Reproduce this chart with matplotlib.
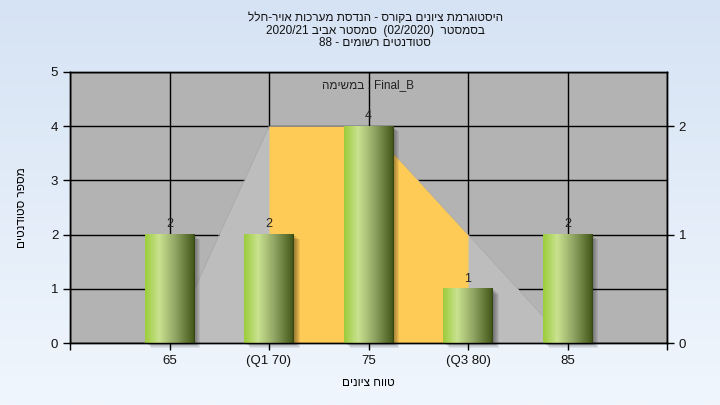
import numpy as np
import matplotlib
matplotlib.use('Agg')
import matplotlib.pyplot as plt
from matplotlib.colors import LinearSegmentedColormap
from matplotlib.patches import Rectangle
from matplotlib import transforms

plt.rcParams['font.family'] = ['Liberation Sans', 'DejaVu Sans']

# chart data
score_labels = ['65', '(Q1 70)', '75', '(Q3 80)', '85']
students = [2, 2, 4, 1, 2]
curve = [0, 2, 2, 1, 0]      # right axis distribution line
q1_pos, q3_pos = 1, 3        # index of Q1 / Q3 categories
left_ticks = [0, 1, 2, 3, 4, 5]
right_ticks = [0, 1, 2]

title_lines = ['היסטוגרמת ציונים בקורס - הנדסת מערכות אויר-חלל',
               'בסמסטר  (02/2020)  סמסטר אביב 2020/21',
               'סטודנטים רשומים - 88']
task_text = 'Final_B : במשימה'
xlabel = 'טווח ציונים'
ylabel = 'מספר סטודנטים'


def rtl(s):
    # matplotlib has no bidi, so put hebrew words into visual order by hand
    out = []
    for tok in s.split(' '):
        if any('\u0590' <= c <= '\u05ff' for c in tok):
            tok = tok[::-1]
        out.append(tok)
    return ' '.join(out[::-1])


fig = plt.figure(figsize=(7.2, 4.05), dpi=100)

# light blue background gradient
bg = fig.add_axes([0, 0, 1, 1], zorder=-10)
bg_cmap = LinearSegmentedColormap.from_list('bg', ['#d6e3f4', '#f0f6fd'])
bg.imshow(np.linspace(0, 1, 256).reshape(-1, 1), cmap=bg_cmap, aspect='auto',
          extent=[0, 1, 0, 1])
bg.axis('off')

ax = fig.add_axes([70 / 720, 62 / 405, 597 / 720, 271 / 405])
ax.set_facecolor('#b3b3b3')
ax2 = ax.twinx()
ax2.set_ylim(0, 2.5)
ax2.patch.set_visible(False)

x = np.arange(len(score_labels))
xs = np.array(x, dtype=float)
cv = np.array(curve, dtype=float)

# distribution area (right axis scale) drawn under the bars on the main axes
ax.fill_between(xs, cv, color='#bdbdbd', lw=0, zorder=1, transform=ax2.transData)
iq = (xs >= q1_pos) & (xs <= q3_pos)
ax.fill_between(xs[iq], cv[iq], color='#fecb57', lw=0, zorder=1.1,
                transform=ax2.transData)
ax.plot(xs, cv, color='#aaaaaa', lw=0.5, zorder=1.2, transform=ax2.transData)

# bars with a shadow and a horizontal green gradient
bar_cmap = LinearSegmentedColormap.from_list(
    'bar', [(0, '#9ccc3c'), (0.28, '#c9e28f'), (0.6, '#92a765'), (0.97, '#475b1c'),
            (1, '#33420f')])
grad = np.linspace(0, 1, 128).reshape(1, -1)
bars = ax.bar(x, students, width=0.5, color='none', lw=0, zorder=3)
for b in bars:
    x0, y0, w, h = b.get_x(), b.get_y(), b.get_width(), b.get_height()
    for k in range(1, 7):
        tr = transforms.offset_copy(ax.transData, fig=fig, x=k, y=-k * 0.8, units='dots')
        ax.add_patch(Rectangle((x0, y0), w, h, transform=tr, color='black',
                               alpha=0.07, lw=0, zorder=2, clip_on=False))
    ax.imshow(grad, cmap=bar_cmap, extent=[x0, x0 + w, y0, y0 + h], aspect='auto',
              interpolation='bilinear', zorder=3)
    ax.annotate(str(b.get_height()), (x0 + w / 2, y0 + h), xytext=(0, 3),
                textcoords='offset points', ha='center', va='bottom',
                fontsize=9, color='#222222', zorder=5)

ax.set_xlim(-1, 5)
ax.set_ylim(0, 5)
ax.set_xticks(np.arange(-1, 6))
ax.set_xticklabels([''] + score_labels + [''])
ax.set_yticks(left_ticks)
ax2.set_yticks(right_ticks)
ax.set_axisbelow(True)
ax.grid(True, color='black', lw=1)

for a in (ax, ax2):
    a.tick_params(direction='out', length=5, width=1, color='black',
                  labelsize=9.5, labelcolor='#111111')
    for sp in a.spines.values():
        sp.set_color('black')
        sp.set_linewidth(1)

ax.set_xlabel(rtl(xlabel), fontsize=8.5, labelpad=7)
ax.set_ylabel(rtl(ylabel), fontsize=8.5, labelpad=16)

ax.text(0.5, 0.95, rtl(task_text), transform=ax.transAxes, ha='center', va='center',
        fontsize=8.5, color='#222222', zorder=6)

fig.text(375 / 720, 1 - 12 / 405, '\n'.join(rtl(t) for t in title_lines),
         ha='center', va='top', fontsize=8.5, linespacing=1.08, color='#111111')

fig.savefig('out.png', dpi=100)
